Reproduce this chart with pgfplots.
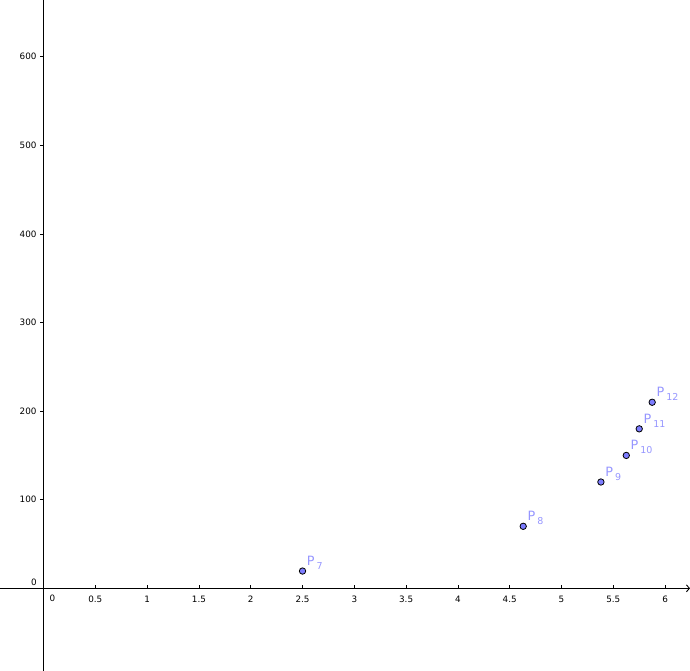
\documentclass[border=0pt]{standalone}
\usepackage{fontspec}
\setmainfont{DejaVu Sans}
\usepackage{pgfplots}
\pgfplotsset{compat=1.18}
\usetikzlibrary{arrows.meta}
\definecolor{ptfill}{RGB}{125,125,255}
\definecolor{ptlabel}{RGB}{150,150,255}
\pgfplotstableread{
x y lab
2.50 19.5 7
4.63 70 8
5.38 120 9
5.625 150 10
5.75 180 11
5.875 210 12
}\pts
\begin{document}
\begin{tikzpicture}
\begin{axis}[
  scale only axis, width=690pt, height=671pt,
  xmin=-0.42, xmax=6.24, ymin=-93.3, ymax=664,
  axis lines=middle,
  axis line style={line width=0.9pt, -},
  x axis line style={-{Straight Barb[length=3pt,width=7pt]}},
  xtick={0.5,1,...,6}, ytick={100,200,...,600},
  xticklabels={0.5,1,1.5,2,2.5,3,3.5,4,4.5,5,5.5,6},
  xtick align=inside, ytick align=outside,
  major tick length=3.5pt,
  tick style={black, line width=0.8pt},
  xticklabel style={anchor=north, yshift=-4pt, font=\fontsize{8.8}{10}\selectfont},
  yticklabel style={anchor=east, xshift=0pt, font=\fontsize{8.8}{10}\selectfont},
  /pgf/number format/assume math mode=true,
  clip=false,
]
\addplot[only marks, mark=*, mark size=3.2pt, mark options={fill=ptfill, draw=black, line width=0.8pt},
  nodes near coords={P\hspace{2pt}\raisebox{-4pt}{\fontsize{9.5}{9.5}\selectfont\pgfplotspointmeta}},
  point meta=explicit symbolic,
  every node near coord/.style={anchor=base west, xshift=4pt, yshift=5.8pt, text=ptlabel, font=\fontsize{12.8}{13}\selectfont, inner sep=0pt},
] table[x=x, y=y, meta=lab] {\pts};
\node[anchor=north, font=\fontsize{8.8}{10}\selectfont, inner sep=0pt] at (axis cs:0,0) [xshift=8.8pt, yshift=-6.5pt] {0};
\node[anchor=east, font=\fontsize{8.8}{10}\selectfont, inner sep=0pt] at (axis cs:0,0) [xshift=-6.5pt, yshift=6pt] {0};
\end{axis}
\pgfresetboundingbox
\path (current axis.south west) rectangle (current axis.north east);
\end{tikzpicture}
\end{document}
